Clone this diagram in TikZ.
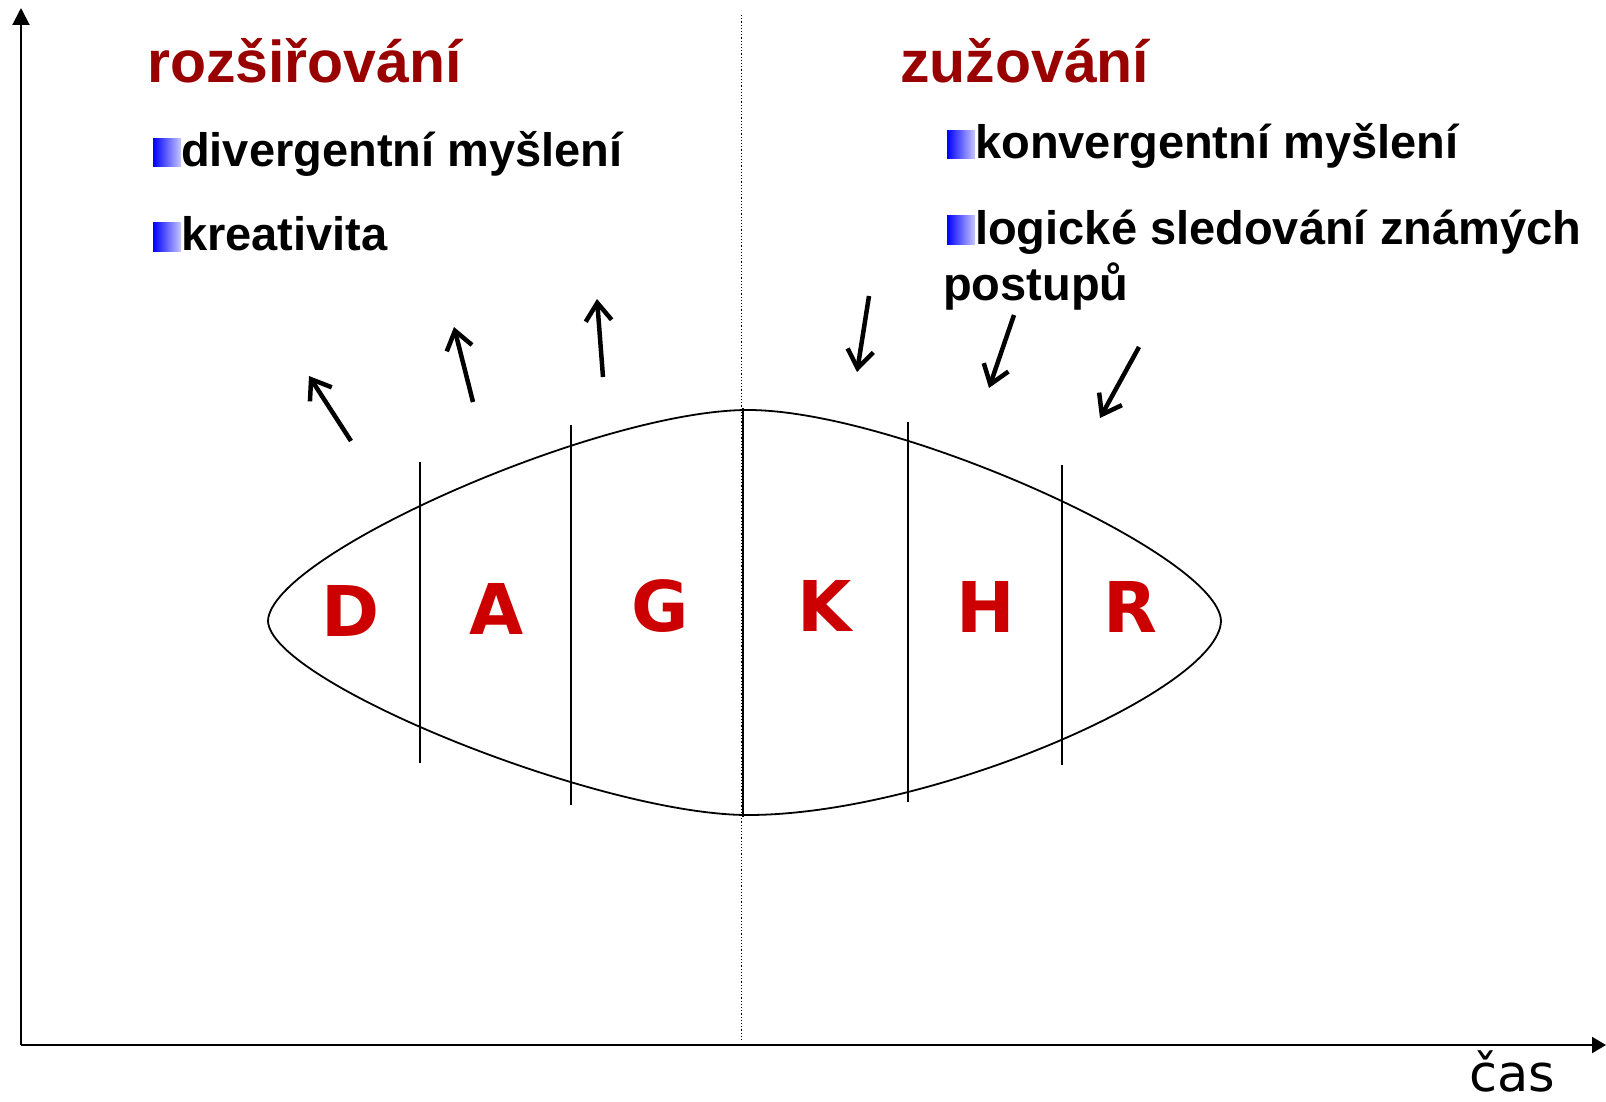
\documentclass[tikz,border=0pt]{standalone}
\usepackage{fontspec}
\setmainfont{Liberation Sans}
\newfontfamily\letterfont{DejaVu Sans}
\newfontfamily\casfont{DejaVu Sans}
\usetikzlibrary{arrows.meta}
\definecolor{headred}{RGB}{153,0,0}
\definecolor{letred}{RGB}{204,0,0}
\begin{document}
\begin{tikzpicture}[x=1pt,y=-1pt,
  heading/.style={anchor=base west,inner sep=0pt,text=headred,font=\fontsize{59}{62}\selectfont\bfseries},
  bullettext/.style={anchor=base west,inner sep=0pt,font=\fontsize{47}{52}\selectfont\bfseries},
  phase/.style={anchor=base,inner sep=0pt,text=letred,font=\letterfont\fontsize{70}{72}\selectfont\bfseries},
  axis/.style={line width=2pt},
  divider/.style={line width=1.8pt},
  lens/.style={line width=1.8pt},
  flow/.style={line width=4.5pt,-{Straight Barb[length=18pt,width=26pt,line width=4.5pt]}},
  bulletbox/.style={left color=blue,right color=blue!22,draw=none}
]
\useasboundingbox (0,0) rectangle (1606,1102);
% axes
\coordinate (origin) at (21,1045);
\coordinate (ytop) at (21,8);
\coordinate (xend) at (1606,1045);
\draw[axis,-{Triangle[length=17pt,width=17pt]}] (origin) -- (ytop);
\draw[axis,-{Triangle[length=14pt,width=16pt]}] (origin) -- (xend);
\node[anchor=base west,inner sep=0pt,font=\casfont\fontsize{51}{53}\selectfont] (cas) at (1469,1091) {čas};
% dotted divider
\coordinate (dtop) at (741,15);
\coordinate (dbot) at (741,1040);
\draw[line width=1pt,dash pattern=on 1.2pt off 2pt] (dtop) -- (dbot);
% lens
\coordinate (lt) at (268,621);
\coordinate (rt) at (1221,621);
\coordinate (tp) at (748,410);
\coordinate (bt) at (748,815);
\draw[lens] (lt) .. controls (270,555) and (600,410) .. (tp)
  .. controls (896,410) and (1219,555) .. (rt)
  .. controls (1219,690) and (930,815) .. (bt)
  .. controls (600,815) and (270,682) .. (lt) -- cycle;
% dividers
\draw[divider] (420,462) -- (420,763);
\draw[divider] (571,425) -- (571,805);
\draw[divider] (743,408) -- (743,817);
\draw[divider] (908,422) -- (908,802);
\draw[divider] (1062,465) -- (1062,765);
% letters
\node[phase] (D) at (351,636) {D};
\node[phase] (A) at (497,634) {A};
\node[phase] (G) at (660,631) {G};
\node[phase] (K) at (825,631) {K};
\node[phase] (H) at (986,632) {H};
\node[phase] (R) at (1130,632) {R};
% headings
\node[heading] (rozs) at (147,83) {rozšiřování};
\node[heading] (zuz) at (900,83) {zužování};
% bullets left
\shade[bulletbox] (153,139) rectangle (181,167);
\node[bullettext] (div) at (181,167) {divergentní myšlení};
\shade[bulletbox] (153,223) rectangle (181,251);
\node[bullettext] (kre) at (181,251) {kreativita};
% bullets right
\shade[bulletbox] (947,131) rectangle (975,159);
\node[bullettext] (konv) at (975,159) {konvergentní myšlení};
\shade[bulletbox] (947,216) rectangle (975,244);
\node[bullettext] (log) at (975,244) {logické sledování známých};
\node[bullettext] (post) at (943,300) {postupů};
% arrows up
\coordinate (a1s) at (351,441); \coordinate (a1e) at (309,376);
\coordinate (a2s) at (473,402); \coordinate (a2e) at (454,327);
\coordinate (a3s) at (603,377); \coordinate (a3e) at (597,299);
\draw[flow] (a1s) -- (a1e);
\draw[flow] (a2s) -- (a2e);
\draw[flow] (a3s) -- (a3e);
% arrows down
\coordinate (b1s) at (869,296); \coordinate (b1e) at (857,372);
\coordinate (b2s) at (1014,315); \coordinate (b2e) at (989,388);
\coordinate (b3s) at (1139,347); \coordinate (b3e) at (1100,418);
\draw[flow] (b1s) -- (b1e);
\draw[flow] (b2s) -- (b2e);
\draw[flow] (b3s) -- (b3e);
\end{tikzpicture}
\end{document}
